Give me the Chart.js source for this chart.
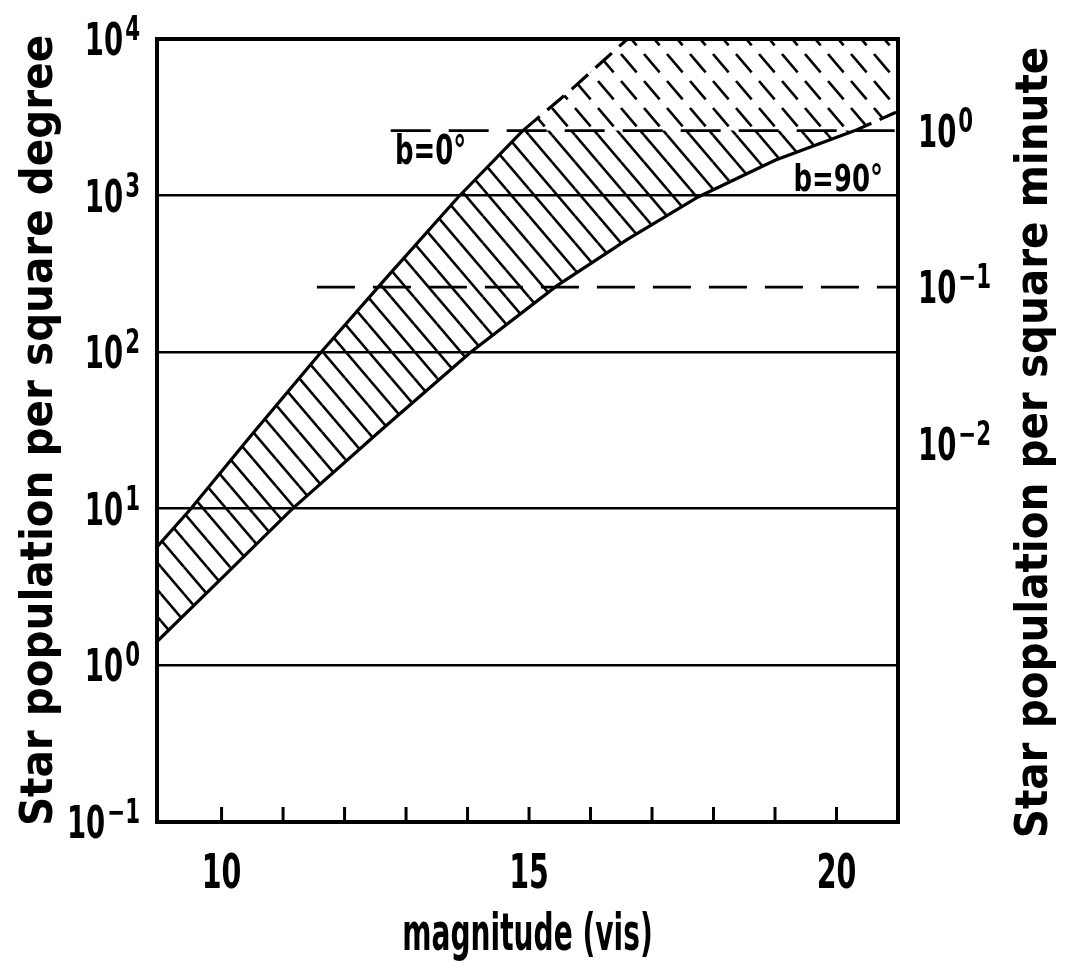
<!DOCTYPE html>
<html>
<head>
<meta charset="utf-8">
<script src="https://cdn.jsdelivr.net/npm/chart.js@4.4.0/dist/chart.umd.min.js"></script>
<style>
    html, body { margin: 0; padding: 0; background: #fff; }
    #contenedor { width: 1068px; height: 965px; }
</style>
</head>
<body>
<div id="contenedor"><canvas id="grafica"></canvas></div>
<script>
// datos (magnitud visual vs estrellas por grado cuadrado)
var magMin = 8.95;
var magMax = 21;
var marcasMag = [10, 11, 12, 13, 14, 15, 16, 17, 18, 19, 20];
var etiquetasMag = [10, 15, 20];

// curva superior, b = 0 grados
var magB0 = [8.95, 9.5, 10.5, 11.6, 12.7, 13.85, 14.9, 15.7, 16.6];
var popB0 = [5.7, 10, 30, 98, 305, 980, 2600, 4800, 10000];

// curva inferior, b = 90 grados
var magB90 = [8.95, 10, 11.15, 12.6, 14.05, 15.45, 16.6, 17.75, 19.0, 20.3, 21];
var popB90 = [1.42, 3.6, 10, 32, 100, 265, 525, 980, 1680, 2600, 3450];

// escalas
var ticksGrado = [0.1, 1, 10, 100, 1000, 10000];
var ticksMinuto = [0.01, 0.1, 1];
var gradoPorMinuto = 2600; // como esta dibujado el eje derecho
var lineasMinuto = [1, 0.1];
var lineasDesde = [12.75, 11.55];

var familia = "'DejaVu Sans Condensed', 'DejaVu Sans', sans-serif";
var limite = gradoPorMinuto; // 10^0 por minuto cuadrado

function pares(xs, ys) {
    return xs.map(function(x, i) { return {x: x, y: ys[i]}; });
}

// trama de rayas diagonales para el relleno
function crearTrama(w, h, grosor, fraccion) {
    var c = document.createElement('canvas');
    c.width = w;
    c.height = h;
    var g = c.getContext('2d');
    g.strokeStyle = '#000';
    g.lineWidth = grosor;
    for (var i = -1; i <= 1; i++) {
        for (var j = -1; j <= 1; j++) {
            g.beginPath();
            g.moveTo(i * w, j * h);
            g.lineTo(i * w + w * fraccion, j * h + h * fraccion);
            g.stroke();
        }
    }
    return g.createPattern(c, 'repeat');
}

var tramaLlena = crearTrama(23, 27, 2.6, 1);
var tramaRayada = crearTrama(23, 27, 2.6, 0.68);

var puntosB0 = pares(magB0, popB0);
var puntosB90 = pares(magB90, popB90);
var xCorteB0 = magB0[popB0.indexOf(limite)];
var xCorteB90 = magB90[popB90.indexOf(limite)];

// zona conocida (debajo de la linea de 10^0 por minuto)
var zonaArriba = puntosB0.filter(function(p) { return p.y <= limite; }).concat([{x: xCorteB90, y: limite}]);
var zonaAbajo = puntosB90.filter(function(p) { return p.x <= xCorteB90; });
// zona extrapolada (encima)
var extraArriba = puntosB0.filter(function(p) { return p.y >= limite; }).concat([{x: magMax, y: ticksGrado[ticksGrado.length - 1]}]);
var extraAbajo = [{x: xCorteB0, y: limite}].concat(puntosB90.filter(function(p) { return p.y >= limite; }));

function rayaSiArriba(dash) {
    return function(c) {
        return c.p0.parsed.y >= limite - 1 ? dash : undefined;
    };
}

var oculto = {borderWidth: 0, pointRadius: 0, tension: 0, borderColor: 'rgba(0,0,0,0)'};

// texto angosto (la letra del original es tipo DIN)
function texto(ctx, str, x, y, size, escala, alinear) {
    ctx.save();
    ctx.font = 'bold ' + size + 'px ' + familia;
    ctx.textBaseline = 'alphabetic';
    ctx.textAlign = alinear || 'left';
    ctx.translate(x, y);
    ctx.scale(escala, 1);
    ctx.fillText(str, 0, 0);
    ctx.restore();
}

function ancho(ctx, str, size, escala) {
    ctx.save();
    ctx.font = 'bold ' + size + 'px ' + familia;
    var w = ctx.measureText(str).width * escala;
    ctx.restore();
    return w;
}

function potencia(ctx, exp, x, y, alinear) {
    var wb = ancho(ctx, '10', 45, 0.68);
    var we = ancho(ctx, exp, 33, 0.72);
    var x0 = alinear === 'right' ? x - wb - we - 2 : x;
    texto(ctx, '10', x0, y + 16, 45, 0.68);
    texto(ctx, exp, x0 + wb + 2, y + 1, 33, 0.72);
}

function textoExp(v) {
    return String(Math.round(Math.log10(v))).replace('-', '\u2212');
}

var marco = {
    id: 'marco',
    afterDraw: function(chart) {
        var ctx = chart.ctx;
        var a = chart.chartArea;
        var sx = chart.scales.x, sy = chart.scales.y, sy2 = chart.scales.y2;
        ctx.save();
        ctx.strokeStyle = '#000';
        ctx.fillStyle = '#000';
        // marcas hacia adentro
        ctx.lineWidth = 3;
        sx.ticks.forEach(function(t) {
            var px = sx.getPixelForValue(t.value);
            ctx.beginPath();
            ctx.moveTo(px, a.bottom);
            ctx.lineTo(px, a.bottom - 15);
            ctx.stroke();
        });
        ctx.lineWidth = 4;
        ctx.strokeRect(a.left, a.top, a.right - a.left, a.bottom - a.top);

        // numeros del eje x
        etiquetasMag.forEach(function(v) {
            texto(ctx, String(v), sx.getPixelForValue(v), a.bottom + 66, 48, 0.66, 'center');
        });

        // etiquetas de los ejes logaritmicos
        sy.ticks.forEach(function(t) {
            potencia(ctx, textoExp(t.value), a.left - 17, sy.getPixelForValue(t.value), 'right');
        });
        sy2.ticks.forEach(function(t) {
            potencia(ctx, textoExp(t.value), a.right + 20, sy2.getPixelForValue(t.value), 'left');
        });

        // titulo inferior
        texto(ctx, 'magnitude (vis)', (a.left + a.right) / 2, 950, 52, 0.6, 'center');

        // titulo derecho, leido de abajo hacia arriba
        ctx.save();
        ctx.translate(1047, (a.top + a.bottom) / 2 + 12);
        ctx.rotate(-Math.PI / 2);
        texto(ctx, 'Star population per square minute', 0, 0, 45, 1, 'center');
        ctx.restore();

        // rotulos de las curvas
        texto(ctx, 'b=0\u00b0', sx.getPixelForValue(12.82), sy.getPixelForValue(1580), 40, 0.72);
        texto(ctx, 'b=90\u00b0', sx.getPixelForValue(19.3), sy.getPixelForValue(1070), 38, 0.76);
        ctx.restore();
    }
};

new Chart(document.getElementById('grafica'), {
    type: 'line',
    data: {
        datasets: [
            Object.assign({data: extraArriba, fill: '+1', backgroundColor: tramaRayada}, oculto),
            Object.assign({data: extraAbajo, fill: false}, oculto),
            Object.assign({data: zonaArriba, fill: '+1', backgroundColor: tramaLlena}, oculto),
            Object.assign({data: zonaAbajo, fill: false}, oculto),
            {
                label: 'b=0°',
                data: puntosB0,
                borderColor: '#000',
                borderWidth: 3.2,
                pointRadius: 0,
                tension: 0,
                fill: false,
                segment: {borderDash: rayaSiArriba([22, 10])}
            },
            {
                label: 'b=90°',
                data: puntosB90,
                borderColor: '#000',
                borderWidth: 3.2,
                pointRadius: 0,
                tension: 0,
                fill: false,
                segment: {borderDash: rayaSiArriba([18, 9])}
            },
            {
                label: '10^0 min',
                data: [{x: lineasDesde[0], y: lineasMinuto[0]}, {x: magMax, y: lineasMinuto[0]}],
                yAxisID: 'y2',
                borderColor: '#000',
                borderWidth: 2.8,
                borderDash: [40, 18],
                pointRadius: 0,
                fill: false
            },
            {
                label: '10^-1 min',
                data: [{x: lineasDesde[1], y: lineasMinuto[1]}, {x: magMax, y: lineasMinuto[1]}],
                yAxisID: 'y2',
                borderColor: '#000',
                borderWidth: 2.8,
                borderDash: [38, 18],
                pointRadius: 0,
                fill: false
            }
        ]
    },
    options: {
        responsive: true,
        maintainAspectRatio: false,
        animation: false,
        layout: {padding: {top: 39, left: 0, right: 0, bottom: 0}},
        plugins: {
            legend: {display: false},
            tooltip: {enabled: false}
        },
        scales: {
            x: {
                type: 'linear',
                min: magMin,
                max: magMax,
                afterBuildTicks: function(s) {
                    s.ticks = marcasMag.map(function(v) { return {value: v}; });
                },
                afterFit: function(s) { s.height = 143; },
                ticks: {display: false},
                grid: {drawOnChartArea: false, drawTicks: false},
                border: {display: false}
            },
            y: {
                type: 'logarithmic',
                position: 'left',
                min: ticksGrado[0],
                max: ticksGrado[ticksGrado.length - 1],
                afterBuildTicks: function(s) {
                    s.ticks = ticksGrado.map(function(v) { return {value: v}; });
                },
                afterFit: function(s) { s.width = 157; },
                ticks: {display: false},
                grid: {color: '#000', lineWidth: 2.6, drawTicks: false},
                border: {display: false},
                title: {
                    display: true,
                    text: 'Star population per square degree',
                    color: '#000',
                    font: {family: familia, size: 45, weight: 'bold'},
                    padding: {top: 13, bottom: 0}
                }
            },
            y2: {
                type: 'logarithmic',
                position: 'right',
                min: ticksGrado[0] / gradoPorMinuto,
                max: ticksGrado[ticksGrado.length - 1] / gradoPorMinuto,
                afterBuildTicks: function(s) {
                    s.ticks = ticksMinuto.map(function(v) { return {value: v}; });
                },
                afterFit: function(s) { s.width = 170; },
                ticks: {display: false},
                grid: {display: false},
                border: {display: false}
            }
        }
    },
    plugins: [marco]
});
</script>
</body>
</html>
